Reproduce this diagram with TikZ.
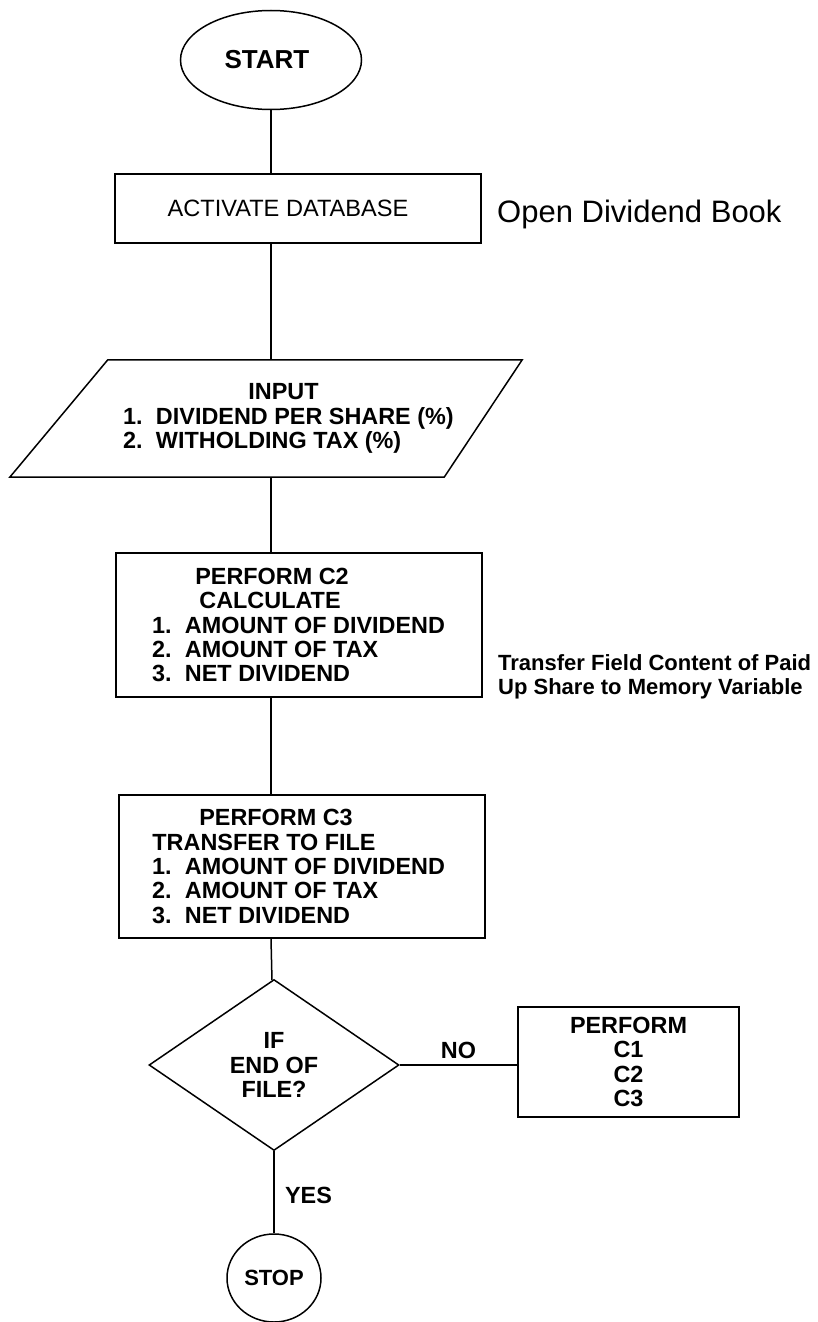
\documentclass[tikz,border=0pt]{standalone}
\usepackage{fontspec}
\setmainfont{Liberation Sans}
\usetikzlibrary{shapes.geometric}

\newcommand{\itm}[3]{\makebox[#1][l]{\makebox[33pt][l]{#2.}#3}}
\newcommand{\padr}[2]{\mbox{#2\hspace*{#1}}}
\newcommand{\padl}[2]{\mbox{\hspace*{#1}#2}}

\tikzset{
  procbox/.style={draw, rectangle, line width=1.5pt, inner sep=0},
  termnode/.style={draw, ellipse, line width=1.5pt, inner sep=0},
  link/.style={line width=1.5pt},
  boxfont/.style={font=\bfseries\fontsize{23.4}{24.4}\selectfont}
}

\begin{document}
\begin{tikzpicture}[x=1pt, y=-1pt]
\useasboundingbox (0,0) rectangle (817,1322);

\node[termnode, minimum width=181pt, minimum height=99pt, font=\bfseries\fontsize{26}{28}\selectfont](start) at (271,60) {\padr{8pt}{START}};
\node[procbox, minimum width=366pt, minimum height=69pt, font=\fontsize{23.6}{24}\selectfont](act) at (298,208.5) {\padr{20pt}{ACTIVATE DATABASE}};
\node[anchor=base west, inner sep=0, font=\fontsize{31}{33}\selectfont](opennote) at (497,222.5) {Open Dividend Book};

% input parallelogram
\node[rectangle, minimum width=512pt, minimum height=117pt, inner sep=0, boxfont, align=center](inp) at (266,418.5) {\padl{35pt}{INPUT}\\\padl{45pt}{\itm{331pt}{1}{DIVIDEND PER SHARE (\%)}}\\\padl{45pt}{\itm{331pt}{2}{WITHOLDING TAX (\%)}}};
\draw[link] (inp.south west) -- ([xshift=98pt]inp.north west) -- (inp.north east) -- ([xshift=-78pt]inp.south east) -- cycle;

\node[procbox, minimum width=366pt, minimum height=144pt, boxfont, align=center](calc) at (299,625) {\padr{54pt}{PERFORM C2}\\\padr{58pt}{CALCULATE}\\\itm{294pt}{1}{AMOUNT OF DIVIDEND}\\\itm{294pt}{2}{AMOUNT OF TAX}\\\itm{294pt}{3}{NET DIVIDEND}};
\node[anchor=base west, inner sep=0, font=\bfseries\fontsize{22}{24}\selectfont, align=left](memnote) at (498,694) {Transfer Field Content of Paid\\Up Share to Memory Variable};

\node[procbox, minimum width=366pt, minimum height=143pt, boxfont, align=center](xfer) at (302,866.5) {\padr{52pt}{PERFORM C3}\\\padr{76pt}{TRANSFER TO FILE}\\\padr{6pt}{\itm{294pt}{1}{AMOUNT OF DIVIDEND}}\\\padr{6pt}{\itm{294pt}{2}{AMOUNT OF TAX}}\\\padr{6pt}{\itm{294pt}{3}{NET DIVIDEND}}};

\node[draw, diamond, minimum width=250pt, minimum height=171pt, line width=1.5pt, inner sep=0, boxfont, align=center](eof) at (274,1065) {IF\\END OF\\FILE?};
\node[procbox, minimum width=221pt, minimum height=110pt, boxfont, align=center](again) at (628.5,1062) {PERFORM\\C1\\C2\\C3};
\node[termnode, minimum width=94pt, minimum height=88pt, font=\bfseries\fontsize{22}{24}\selectfont](stop) at (274,1278) {STOP};

\draw[link] (start) -- (act.north -| start);
\draw[link] (act.south -| start) -- (inp.north -| start);
\draw[link] (inp.south -| start) -- (calc.north -| start);
\draw[link] (calc.south -| start) -- (xfer.north -| start);
\draw[link] (xfer.south -| start) -- (eof);
\draw[link] (eof) -- node[right=7pt, pos=0.54, boxfont]{YES} (stop);
\draw[link] (eof.east) -- node[above=2pt, boxfont]{NO} (eof.east -| again.west);

\end{tikzpicture}
\end{document}
